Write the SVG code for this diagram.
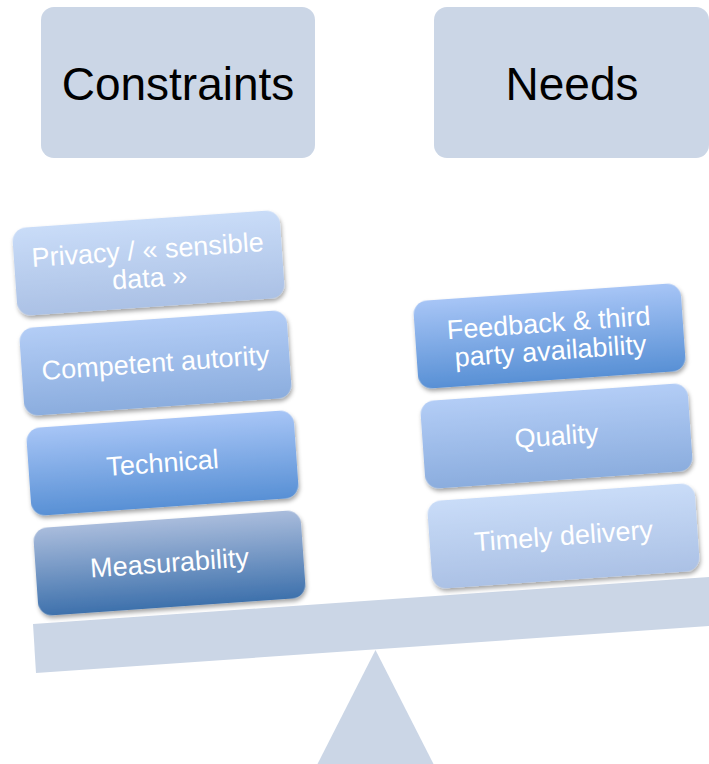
<svg xmlns="http://www.w3.org/2000/svg" width="709" height="764" viewBox="0 0 709 764">
<style>
.hdr{fill:#cbd6e6;}
.hdrt{font-family:"Liberation Sans",Arial,sans-serif;font-size:46px;fill:#000;text-anchor:middle;}
.box{filter:url(#sh);}
.bt{font-family:"Liberation Sans",Arial,sans-serif;font-size:27px;fill:#fff;text-anchor:middle;}
.scale{fill:#cbd6e6;}
</style>
<defs>
<filter id="sh" x="-10%" y="-20%" width="120%" height="150%">
<feDropShadow dx="1" dy="3" stdDeviation="2" flood-color="#000" flood-opacity="0.35"/>
</filter>
<linearGradient id="gPale" x1="0" y1="0" x2="0" y2="1"><stop offset="0" stop-color="#c9dcf8"/><stop offset="1" stop-color="#abc1e5"/></linearGradient>
<linearGradient id="gMid" x1="0" y1="0" x2="0" y2="1"><stop offset="0" stop-color="#b3cdf6"/><stop offset="1" stop-color="#8badde"/></linearGradient>
<linearGradient id="gSat" x1="0" y1="0" x2="0" y2="1"><stop offset="0" stop-color="#a7c5f6"/><stop offset="1" stop-color="#5890d5"/></linearGradient>
<linearGradient id="gDark" x1="0" y1="0" x2="0" y2="1"><stop offset="0" stop-color="#a9bcdc"/><stop offset="1" stop-color="#3e71ac"/></linearGradient>
</defs>
<rect width="709" height="764" fill="#fff"/>

<g id="constraints">
<rect class="hdr" x="41" y="7" width="274" height="151" rx="13"/>
<text class="hdrt" x="178" y="100">Constraints</text>
</g>
<g id="needs">
<rect class="hdr" x="434" y="7" width="275" height="151" rx="13"/>
<text class="hdrt" x="572" y="100">Needs</text>
</g>

<g id="scale-beam">
<polygon class="scale" points="33,624 709,577 709,626 36,673"/>
</g>
<g id="fulcrum">
<polygon class="scale" points="375.5,650 433.5,764 317.5,764"/>
</g>

<g id="privacy" transform="translate(148.5,263) rotate(-4)">
<rect class="box" x="-134" y="-44" width="268" height="88" rx="14" fill="url(#gPale)"/>
<text class="bt" x="0" y="-4">Privacy / « sensible</text>
<text class="bt" x="0" y="24">data »</text>
</g>
<g id="competent" transform="translate(155.5,363) rotate(-4)">
<rect class="box" x="-134" y="-44" width="268" height="88" rx="14" fill="url(#gMid)"/>
<text class="bt" x="0" y="9">Competent autority</text>
</g>
<g id="technical" transform="translate(162.5,463) rotate(-4)">
<rect class="box" x="-134" y="-44" width="268" height="88" rx="14" fill="url(#gSat)"/>
<text class="bt" x="0" y="9">Technical</text>
</g>
<g id="measurability" transform="translate(169.5,563) rotate(-4)">
<rect class="box" x="-134" y="-44" width="268" height="88" rx="14" fill="url(#gDark)"/>
<text class="bt" x="0" y="9">Measurability</text>
</g>

<g id="feedback" transform="translate(549.5,336) rotate(-4)">
<rect class="box" x="-134" y="-44" width="268" height="88" rx="14" fill="url(#gSat)"/>
<text class="bt" x="0" y="-4">Feedback &amp; third</text>
<text class="bt" x="0" y="24">party availability</text>
</g>
<g id="quality" transform="translate(556.5,436) rotate(-4)">
<rect class="box" x="-134" y="-44" width="268" height="88" rx="14" fill="url(#gMid)"/>
<text class="bt" x="0" y="9">Quality</text>
</g>
<g id="timely" transform="translate(563.5,536) rotate(-4)">
<rect class="box" x="-134" y="-44" width="268" height="88" rx="14" fill="url(#gPale)"/>
<text class="bt" x="0" y="9">Timely delivery</text>
</g>

<g id="connectors"></g>
</svg>
